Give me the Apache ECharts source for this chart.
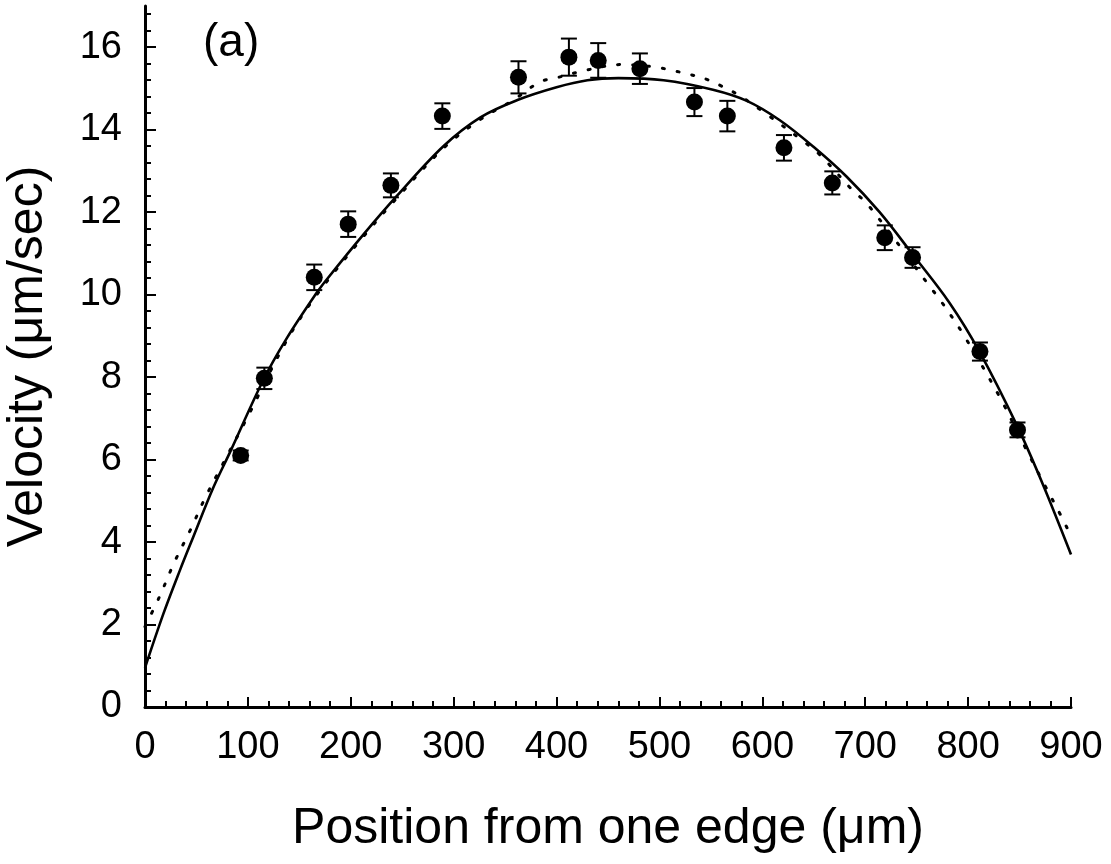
<!DOCTYPE html>
<html>
<head>
<meta charset="utf-8">
<script src="https://cdn.jsdelivr.net/npm/echarts@6/dist/echarts.min.js"></script>
<style>
  html, body { margin: 0; padding: 0; background: #fff; }
  #chart { width: 1111px; height: 864px; }
</style>
</head>
<body>
<div id="chart"></div>
<script>
// measured points (position in um, velocity in um/sec, error bar half height)
var positions = [93, 116, 164.5, 197.5, 239, 289, 363, 412, 440.5, 481, 534, 566, 621, 668, 719, 746, 811.5, 848];
var velocity  = [6.1, 7.97, 10.42, 11.71, 12.65, 14.33, 15.27, 15.76, 15.68, 15.48, 14.67, 14.33, 13.56, 12.71, 11.38, 10.9, 8.62, 6.72];
var errors    = [0.12, 0.26, 0.31, 0.31, 0.29, 0.31, 0.39, 0.45, 0.42, 0.37, 0.34, 0.37, 0.31, 0.28, 0.3, 0.25, 0.22, 0.18];

// solid fitted curve
var solidX = [0, 18, 34, 47, 66, 83, 115, 138, 167, 177, 212, 245, 290, 326, 362, 400, 430, 460, 504, 552, 585, 617, 650, 682, 714, 746, 782, 811, 848, 873, 900];
var solidY = [0.95, 2.27, 3.32, 4.13, 5.3, 6.2, 7.93, 8.95, 10.05, 10.38, 11.45, 12.4, 13.6, 14.3, 14.72, 15.03, 15.2, 15.25, 15.2, 14.97, 14.7, 14.23, 13.58, 12.86, 12.0, 10.98, 9.8, 8.62, 6.8, 5.38, 3.7];

// dotted fitted curve
var dottedX = [0, 14, 28, 44, 59, 76, 100, 138, 167, 212, 245, 290, 326, 358, 384, 400, 430, 463, 496, 512, 528, 546, 561, 577, 600, 643, 658, 687, 703, 763, 774, 795, 830, 857, 873, 890, 900];
var dottedY = [1.95, 2.67, 3.48, 4.29, 5.1, 5.91, 7.05, 8.9, 10.0, 11.4, 12.35, 13.55, 14.25, 14.72, 15.16, 15.26, 15.45, 15.58, 15.52, 15.44, 15.35, 15.22, 15.05, 14.84, 14.45, 13.66, 13.34, 12.55, 12.17, 10.19, 9.83, 9.05, 7.55, 6.22, 5.45, 4.65, 4.15];

var yLabelValues = [0, 2, 4, 6, 8, 10, 12, 14, 16];
var yMinorValues = [];
for (var i = 0; i <= 42; i++) { yMinorValues.push(+(i * 0.4).toFixed(1)); }

function pairs(xs, ys) {
    var out = [];
    for (var i = 0; i < xs.length; i++) out.push([xs[i], ys[i]]);
    return out;
}
var pointData = pairs(positions, velocity);
var errData = [];
for (var j = 0; j < positions.length; j++) errData.push([positions[j], velocity[j], errors[j]]);

var font = '"Liberation Sans", Arial, Helvetica, sans-serif';
var black = '#000';

var myChart = echarts.init(document.getElementById('chart'));
var option = {
    animation: false,
    backgroundColor: '#fff',
    title: {
        text: '(a)',
        left: 198,
        top: 15,
        textStyle: { fontFamily: font, fontSize: 46, fontWeight: 'normal', color: black }
    },
    grid: { left: 145, right: 40, top: 6, bottom: 157, containLabel: false, outerBoundsMode: 'none' },
    xAxis: {
        type: 'value',
        min: 0,
        max: 900,
        interval: 100,
        name: 'Position from one edge (\u03bcm)',
        nameLocation: 'middle',
        nameGap: 97,
        nameTextStyle: { fontFamily: font, fontSize: 50, color: black },
        axisLine: { lineStyle: { color: black, width: 3 } },
        axisTick: { inside: true, length: 10, lineStyle: { color: black, width: 2 } },
        minorTick: { show: true, splitNumber: 5, length: 6, lineStyle: { color: black, width: 2 } },
        axisLabel: { fontFamily: font, fontSize: 38, color: black, margin: 22 },
        splitLine: { show: false }
    },
    yAxis: [
        {
            type: 'value',
            min: 0,
            max: 17,
            name: 'Velocity (\u03bcm/sec)',
            nameLocation: 'middle',
            nameGap: 92,
            nameTextStyle: { fontFamily: font, fontSize: 50, color: black },
            axisLine: { lineStyle: { color: black, width: 3 } },
            axisTick: { inside: true, length: 11, customValues: yLabelValues, lineStyle: { color: black, width: 2 } },
            axisLabel: { fontFamily: font, fontSize: 38, color: black, margin: 23, customValues: yLabelValues },
            splitLine: { show: false }
        },
        {
            type: 'value',
            min: 0,
            max: 17,
            position: 'left',
            axisLine: { show: false },
            axisTick: { inside: true, length: 6, customValues: yMinorValues, lineStyle: { color: black, width: 2 } },
            axisLabel: { show: false },
            splitLine: { show: false }
        }
    ],
    series: [
        {
            name: 'dotted fit',
            type: 'line',
            data: pairs(dottedX, dottedY),
            showSymbol: false,
            smooth: 0.35,
            lineStyle: { color: black, width: 3, type: [2, 13], cap: 'round' },
            z: 2
        },
        {
            name: 'solid fit',
            type: 'line',
            data: pairs(solidX, solidY),
            showSymbol: false,
            smooth: 0.35,
            lineStyle: { color: black, width: 2.6 },
            z: 3
        },
        {
            name: 'error',
            type: 'custom',
            data: errData,
            encode: { x: 0, y: 1 },
            renderItem: function (params, api) {
                var x = api.value(0), y = api.value(1), e = api.value(2);
                var top = api.coord([x, y + e]);
                var bot = api.coord([x, y - e]);
                var hw = 8;
                var st = { stroke: black, lineWidth: 2 };
                return {
                    type: 'group',
                    children: [
                        { type: 'line', shape: { x1: top[0], y1: top[1], x2: bot[0], y2: bot[1] }, style: st },
                        { type: 'line', shape: { x1: top[0] - hw, y1: top[1], x2: top[0] + hw, y2: top[1] }, style: st },
                        { type: 'line', shape: { x1: bot[0] - hw, y1: bot[1], x2: bot[0] + hw, y2: bot[1] }, style: st }
                    ]
                };
            },
            z: 4
        },
        {
            name: 'measured',
            type: 'scatter',
            data: pointData,
            symbol: 'circle',
            symbolSize: 17,
            itemStyle: { color: black, opacity: 1 },
            z: 5
        }
    ]
};
myChart.setOption(option);
</script>
</body>
</html>
